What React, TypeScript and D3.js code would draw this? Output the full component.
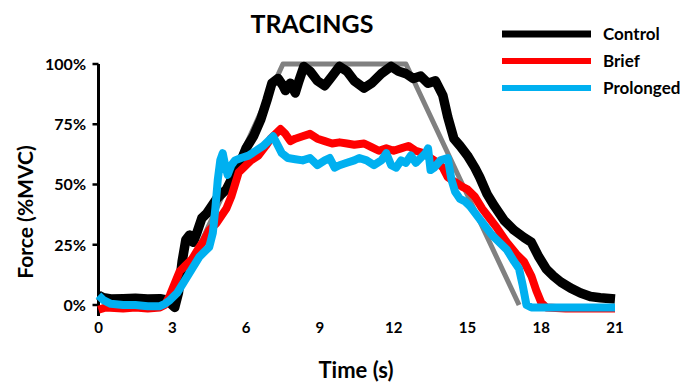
import React, { useEffect, useRef } from 'react';
import * as d3 from 'd3';

// [time (s), force (%MVC)]
const target: [number, number][] = [[3, 0], [7.5, 100], [12.5, 100], [17.1, 0]];

const control: [number, number][] = [
  [0, 4], [0.2, 3], [0.5, 2.5], [1, 2.6], [1.5, 2.8], [2, 2.5], [2.5, 2.6], [2.8, 2], [3.0, 0], [3.1, -1],
  [3.25, 5], [3.4, 18], [3.55, 27], [3.7, 29], [3.85, 26], [4.0, 30], [4.2, 36], [4.4, 38], [4.6, 41],
  [4.8, 44], [5.0, 46], [5.2, 48], [5.4, 52], [5.6, 55], [5.8, 60], [6.0, 65], [6.3, 70], [6.6, 77],
  [6.85, 85], [7.05, 92], [7.3, 94], [7.5, 91], [7.6, 89], [7.8, 92], [8.0, 88], [8.15, 93], [8.35, 99],
  [8.6, 97], [8.9, 93], [9.2, 91], [9.5, 95], [9.8, 99], [10.1, 97], [10.4, 93], [10.8, 90], [11.1, 92],
  [11.5, 96], [11.9, 99], [12.2, 97], [12.5, 96], [12.8, 94], [13.1, 95], [13.4, 92], [13.7, 93],
  [14.0, 87], [14.2, 78], [14.45, 69], [14.7, 66], [15.0, 62], [15.3, 57], [15.5, 53], [15.8, 46],
  [16.1, 41], [16.5, 35], [16.9, 31], [17.3, 28], [17.6, 26], [17.9, 20], [18.2, 15], [18.5, 12],
  [18.8, 9.5], [19.2, 7], [19.6, 5], [20, 3.5], [20.4, 3], [21, 2.5],
];

const brief: [number, number][] = [
  [0, -2], [0.3, -1], [1, -1.5], [1.5, -1], [2, -1.5], [2.5, -1], [2.7, 0], [2.9, 4], [3.1, 9], [3.3, 14],
  [3.5, 16], [3.8, 19], [4.1, 24], [4.3, 27], [4.5, 31], [4.8, 34], [5.0, 37], [5.2, 40], [5.4, 45],
  [5.55, 50], [5.7, 55], [5.9, 57], [6.2, 60], [6.5, 62], [6.8, 66], [7.0, 69], [7.2, 71], [7.4, 73],
  [7.6, 71], [7.8, 68], [8.0, 69], [8.3, 70], [8.6, 71], [8.9, 69], [9.2, 68], [9.5, 67], [9.8, 67.5],
  [10.1, 67], [10.4, 66.5], [10.8, 67], [11.1, 65.5], [11.4, 64], [11.7, 65], [12.0, 64], [12.3, 65],
  [12.6, 66], [12.9, 64], [13.2, 63], [13.5, 61], [13.8, 59], [14.0, 57], [14.2, 53], [14.5, 51],
  [14.8, 49], [15.0, 48], [15.3, 45], [15.6, 40], [15.9, 36], [16.2, 32], [16.6, 26], [17.0, 21],
  [17.3, 18], [17.6, 12], [17.8, 6], [18.0, 1], [18.2, -1], [19, -1.5], [20, -1.5], [21, -1.5],
];

const prolonged: [number, number][] = [
  [0, 4], [0.2, 2], [0.5, 0.5], [1, 0], [1.5, 0], [2, -0.5], [2.5, -0.5], [2.7, 0.5], [2.9, 2], [3.2, 5],
  [3.5, 10], [3.8, 15], [4.1, 20], [4.3, 22], [4.5, 24], [4.65, 30], [4.75, 40], [4.85, 52], [4.95, 60],
  [5.05, 63], [5.15, 58], [5.25, 54], [5.4, 58], [5.55, 60], [5.8, 61], [6.1, 62], [6.4, 64], [6.7, 66],
  [6.9, 68], [7.1, 70], [7.25, 67], [7.45, 63], [7.7, 61], [8.0, 60.5], [8.3, 60], [8.6, 61], [8.9, 58],
  [9.2, 60], [9.4, 61], [9.6, 57], [9.8, 58], [10.1, 59], [10.4, 60], [10.6, 61], [10.9, 60], [11.2, 58],
  [11.5, 60], [11.7, 63], [11.9, 58], [12.1, 57], [12.3, 60], [12.5, 59], [12.7, 62], [12.9, 59],
  [13.1, 61], [13.3, 63], [13.4, 65], [13.5, 56], [13.65, 57], [13.9, 60], [14.2, 61], [14.35, 52],
  [14.5, 47], [14.7, 44], [14.9, 43], [15.1, 41], [15.4, 37], [15.7, 33], [16.0, 29], [16.3, 26],
  [16.6, 23], [16.9, 18], [17.1, 15], [17.25, 8], [17.4, 0], [17.6, -1], [18.5, -1], [19.5, -1], [21, -1],
];

const series = [
  { name: 'Control', data: control, color: '#000000', width: 9.5 },
  { name: 'Brief', data: brief, color: '#FF0000', width: 8 },
  { name: 'Prolonged', data: prolonged, color: '#00B0F0', width: 8 },
];

const xTicks = [0, 3, 6, 9, 12, 15, 18, 21];
const yTicks = [0, 25, 50, 75, 100];

const font = 'Lato, "Open Sans", sans-serif';

const App: React.FC = () => {
  const ref = useRef<SVGSVGElement | null>(null);

  useEffect(() => {
    const svg = d3.select(ref.current);
    svg.selectAll('*').remove();

    const x = d3.scaleLinear().domain([0, 21]).range([98.5, 615]);
    const y = d3.scaleLinear().domain([0, 100]).range([305, 64]);

    // title
    svg.append('text')
      .attr('x', 312).attr('y', 33)
      .attr('text-anchor', 'middle')
      .style('font-family', font).style('font-weight', 'bold').style('font-size', '25px')
      .text('TRACINGS');

    // y axis
    const yAxis = svg.append('g');
    yAxis.append('line')
      .attr('x1', x(0)).attr('x2', x(0))
      .attr('y1', y(100)).attr('y2', 316)
      .attr('stroke', '#000').attr('stroke-width', 3);
    yTicks.forEach(t => {
      yAxis.append('line')
        .attr('x1', x(0) - 6).attr('x2', x(0))
        .attr('y1', y(t)).attr('y2', y(t))
        .attr('stroke', '#000').attr('stroke-width', 2.5);
      yAxis.append('text')
        .attr('x', 86).attr('y', y(t))
        .attr('dy', '0.36em')
        .attr('text-anchor', 'end')
        .style('font-family', font).style('font-weight', 'bold').style('font-size', '16px')
        .text(`${t}%`);
    });

    // x tick labels (no axis line)
    xTicks.forEach(t => {
      svg.append('text')
        .attr('x', x(t)).attr('y', 333)
        .attr('text-anchor', 'middle')
        .style('font-family', font).style('font-weight', 'bold').style('font-size', '15px')
        .text(String(t));
    });

    // axis titles
    svg.append('text')
      .attr('x', 356).attr('y', 378)
      .attr('text-anchor', 'middle')
      .style('font-family', font).style('font-weight', 'bold').style('font-size', '22px')
      .text('Time (s)');

    svg.append('text')
      .attr('transform', 'rotate(-90)')
      .attr('x', -212).attr('y', 33)
      .attr('text-anchor', 'middle')
      .style('font-family', font).style('font-weight', 'bold').style('font-size', '21px')
      .text('Force (%MVC)');

    const line = d3.line<[number, number]>()
      .x(d => x(d[0]))
      .y(d => y(d[1]));

    // target profile
    svg.append('path')
      .datum(target)
      .attr('d', line)
      .attr('fill', 'none')
      .attr('stroke', '#808080')
      .attr('stroke-width', 5)
      .attr('stroke-linejoin', 'round');

    series.forEach(s => {
      svg.append('path')
        .datum(s.data)
        .attr('d', line)
        .attr('fill', 'none')
        .attr('stroke', s.color)
        .attr('stroke-width', s.width)
        .attr('stroke-linejoin', 'round');
    });

    // legend
    const legendY = [34, 61, 88];
    series.forEach((s, i) => {
      svg.append('line')
        .attr('x1', 502).attr('x2', 591)
        .attr('y1', legendY[i]).attr('y2', legendY[i])
        .attr('stroke', s.color)
        .attr('stroke-width', i === 0 ? 7 : 6);
      svg.append('text')
        .attr('x', 603).attr('y', legendY[i])
        .attr('dy', '0.36em')
        .style('font-family', font).style('font-weight', 'bold').style('font-size', '17px')
        .text(s.name);
    });
  }, []);

  return (
    <svg
      ref={ref}
      width={685}
      height={383}
      style={{ position: 'absolute', left: 0, top: 0, background: '#fff' }}
    />
  );
};

export default App;
